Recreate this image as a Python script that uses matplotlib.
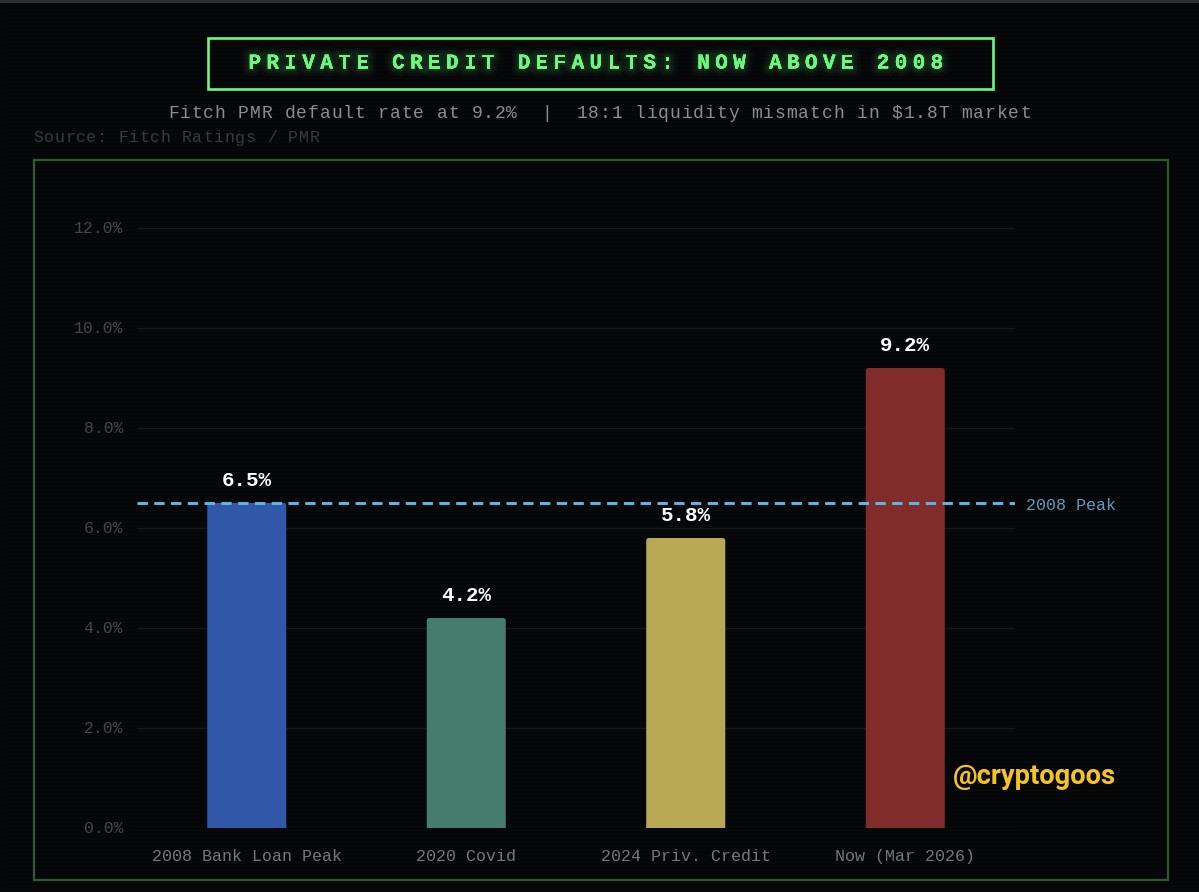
import numpy as np
import matplotlib
matplotlib.use('Agg')
import matplotlib.pyplot as plt
import matplotlib.patheffects as pe
from matplotlib.patches import Rectangle, FancyBboxPatch
from matplotlib.transforms import ScaledTranslation

W, H = 1199, 892
BG = '#050608'
GREEN = '#6af87e'
MONO = 'Liberation Mono'

categories = ['2008 Bank Loan Peak', '2020 Covid', '2024 Priv. Credit', 'Now (Mar 2026)']
default_rates = [6.5, 4.2, 5.8, 9.2]
bar_colors = ['#3057a8', '#457c6c', '#b8aa55', '#7f2c2a']
y_ticks = [0, 2, 4, 6, 8, 10, 12]
peak_2008 = 6.5


def fx(x):
    return x / W


def fy(y):
    return 1 - y / H


def spaced_text(fig, x0, y, s, px, pitch, **kw):
    # matplotlib has no letter spacing, so place the characters one by one
    for i, ch in enumerate(s):
        if ch != ' ':
            fig.text(fx(x0 + i * pitch), fy(y), ch, fontsize=px * 0.72, family=MONO,
                     ha='left', va='center', **kw)


fig = plt.figure(figsize=(W / 100, H / 100), dpi=100, facecolor=BG)

# faint scanlines behind everything
bg = fig.add_axes([0, 0, 1, 1], facecolor='none', zorder=-1)
bg.set_xlim(0, W)
bg.set_ylim(H, 0)
bg.axis('off')
bg.hlines(np.arange(2, H, 4), 0, W, color='#08090b', lw=0.9)

# top strip and frames
fig.add_artist(Rectangle((0, fy(3)), 1, 3 / H, transform=fig.transFigure, fc='#2e302e', ec='none'))
fig.add_artist(Rectangle((fx(34), fy(880)), 1134 / W, 720 / H, transform=fig.transFigure,
                         fc='none', ec='#2f5a30', lw=1.6))
fig.add_artist(Rectangle((fx(208), fy(89)), 785 / W, 51 / H, transform=fig.transFigure,
                         fc='none', ec=GREEN, lw=1.9))

glow = [pe.withStroke(linewidth=11, foreground=GREEN, alpha=0.03),
        pe.withStroke(linewidth=7, foreground=GREEN, alpha=0.05),
        pe.withStroke(linewidth=3, foreground=GREEN, alpha=0.08),
        pe.Normal()]
spaced_text(fig, 248.5, 63, 'PRIVATE CREDIT DEFAULTS: NOW ABOVE 2008', 21, 17.95,
            color=GREEN, fontweight='bold', path_effects=glow)
spaced_text(fig, 168, 113, 'Fitch PMR default rate at 9.2%  |  18:1 liquidity mismatch in $1.8T market',
            18, 11.67, color='#8c8c8c')
spaced_text(fig, 33, 138, 'Source: Fitch Ratings / PMR', 16.5, 10.63, color='#3a3a3a')

# chart, one axes spanning the plot area
ax = fig.add_axes([fx(137), fy(828), 878 / W, 648 / H], facecolor='none')
x = np.arange(len(categories))
bar_w = 0.36
for xi, v, c in zip(x, default_rates, bar_colors):
    # start below zero so only the top corners show rounded
    ax.add_patch(FancyBboxPatch((xi - bar_w / 2, -0.2), bar_w, v + 0.2,
                                boxstyle='round,pad=0,rounding_size=0.012',
                                mutation_aspect=4.4, fc=c, ec='none', zorder=3))
ax.axhline(peak_2008, color='#58b9ea', lw=2.1, dashes=(3.55, 2.2), zorder=4)

for xi, v in zip(x, default_rates):
    ax.annotate(f'{v:.1f}%', (xi, v), xytext=(0, 16), textcoords='offset points',
                ha='center', va='center', color='white', fontsize=15, fontweight='bold', family=MONO)

ax.annotate('2008 Peak', (1, peak_2008), xycoords=('axes fraction', 'data'), xytext=(8, -2),
            textcoords='offset points', ha='left', va='center', color='#5a9cc0',
            fontsize=12, family=MONO)

ax.set_xlim(-0.5, 3.5)
ax.set_ylim(0, 12.96)
ax.set_yticks(y_ticks)
ax.set_yticklabels([f'{t:.1f}%' for t in y_ticks], color='#464646', fontsize=11.8, family=MONO)
ax.set_xticks(x)
ax.set_xticklabels(categories, color='#767676', fontsize=12, family=MONO)
ax.tick_params(axis='both', length=0)
ax.tick_params(axis='y', pad=10)
ax.tick_params(axis='x', pad=15)
ax.grid(axis='y', color='#161718', lw=1, zorder=0)
ax.set_axisbelow(True)
for s in ax.spines.values():
    s.set_visible(False)
for lbl in ax.get_yticklabels():
    lbl.set_transform(lbl.get_transform() + ScaledTranslation(0, 1 / 100, fig.dpi_scale_trans))

fig.text(fx(953), fy(777), '@cryptogoos', color='#f7c41f', fontsize=19.7, fontweight='bold',
         family='Roboto', ha='left', va='center')

fig.savefig('out.png', dpi=100, facecolor=BG)
